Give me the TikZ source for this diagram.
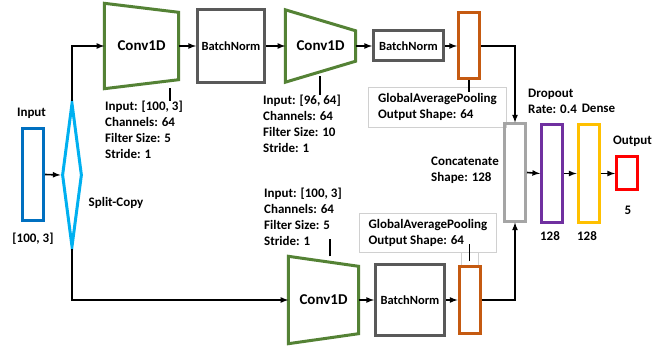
\documentclass[tikz,border=0pt]{standalone}
\usepackage{fontspec}
\setmainfont{Carlito}
\usetikzlibrary{shapes.geometric,arrows,positioning}

\definecolor{inblue}{HTML}{0070C0}
\definecolor{splitblue}{HTML}{00B0F0}
\definecolor{convgreen}{HTML}{548235}
\definecolor{bngray}{HTML}{595959}
\definecolor{gaporange}{HTML}{C55A11}
\definecolor{catgray}{HTML}{A5A5A5}
\definecolor{droppurple}{HTML}{7030A0}
\definecolor{denseyellow}{HTML}{FFC000}
\definecolor{outred}{HTML}{FF0000}
\definecolor{boxgray}{HTML}{D0D0D0}

\begin{document}
\begin{tikzpicture}[x=1pt,y=-1pt,>=latex,
    every node/.style={font=\bfseries\fontsize{13}{16}\selectfont},
    bar/.style={rectangle,line width=3pt,inner sep=0,minimum width=21},
    convbox/.style={inner sep=0,font=\bfseries\fontsize{15}{18}\selectfont},
    convline/.style={draw=convgreen,line width=3pt,line join=miter},
    bnbox/.style={rectangle,draw=bngray,line width=3pt,inner sep=0,font=\bfseries\fontsize{12.5}{15}\selectfont},
    info/.style={align=left,anchor=north west,inner sep=0},
    infobox/.style={draw=boxgray,line width=0.8pt,align=left,inner sep=0,anchor=north west},
    link/.style={->,line width=1.6pt},
    tick/.style={line width=1.6pt}]
    \useasboundingbox (0,0) rectangle (667,350);

    % Input
    \node[bar,draw=inblue,minimum height=92] (in) at (33,174.5) {};
    \node (inlab) at (31.5,113) {Input};
    \node (inshape) at (33,239) {[100, 3]};

    % Split-Copy
    \node[diamond,draw=splitblue,line width=3pt,inner sep=0,minimum width=20,minimum height=144] (split) at (72,175) {};
    \node (splitlab) at (116,203) {Split-Copy};
    \draw[link] (in.east) -- (split.west);

    % Upper branch
    \node[convbox,minimum width=74,minimum height=85] (conv1) at (141.5,46) {Conv1D};
    \draw[convline] (conv1.north west) -- ([yshift=-9pt]conv1.north east) -- ([yshift=9pt]conv1.south east) -- (conv1.south west) -- cycle;
    \node[bnbox,minimum width=67,minimum height=73] (bn1) at (231,46) {BatchNorm};
    \node[convbox,minimum width=70,minimum height=72] (conv2) at (320.5,46) {Conv1D};
    \draw[convline] (conv2.north west) -- ([yshift=-21pt]conv2.north east) -- ([yshift=21pt]conv2.south east) -- (conv2.south west) -- cycle;
    \node[bnbox,minimum width=70,minimum height=30] (bn2) at (408.5,46) {BatchNorm};
    \node[bar,draw=gaporange,minimum height=66] (gap1) at (469,46) {};

    \draw[link] (split.north) |- (conv1.west);
    \draw[link] (conv1.east) -- (bn1.west);
    \draw[link] (bn1.east) -- (conv2.west);
    \draw[link] (conv2.east) -- (bn2.west);
    \draw[link] (bn2.east) -- (gap1.west);

    \node[info] (conv1info) at (105,101) {Input: [100, 3]\\Channels: 64\\Filter Size: 5\\Stride: 1};
    \draw[tick] ([xshift=65pt]conv1info.north west) -- ++(0,-13);
    \node[info] (conv2info) at (263,95) {Input: [96, 64]\\Channels: 64\\Filter Size: 10\\Stride: 1};
    \draw[tick] ([xshift=57pt]conv2info.north west) -- ++(0,-19);
    \node[infobox,minimum width=138,minimum height=40] (gap1info) at (368,87) {GlobalAveragePooling\\Output Shape: 64};
    \draw[tick] (gap1.south) -- ++(0,12);

    % Lower branch
    \node[convbox,minimum width=70,minimum height=87] (conv3) at (323.5,300) {Conv1D};
    \draw[convline] (conv3.north west) -- ([yshift=-10pt]conv3.north east) -- ([yshift=10pt]conv3.south east) -- (conv3.south west) -- cycle;
    \node[bnbox,minimum width=69,minimum height=71] (bn3) at (410,300) {BatchNorm};
    \node[bar,draw=gaporange,minimum height=67] (gap2) at (469.5,300) {};

    \draw[link] (split.south) |- (conv3.west);
    \draw[link] (conv3.east) -- (bn3.west);
    \draw[link] (bn3.east) -- (gap2.west);

    \node[info] (conv3info) at (264,188) {Input: [100, 3]\\Channels: 64\\Filter Size: 5\\Stride: 1};
    \draw[tick] ([xshift=6.5pt]conv3.north) -- ++(0,-17);
    \node[infobox,minimum width=137,minimum height=39] (gap2info) at (359,213) {GlobalAveragePooling\\Output Shape: 64};
    \draw[draw=boxgray,line width=0.8pt] ([xshift=-8pt]gap2.north) -- ([xshift=-8pt]gap2.north |- gap2info.south);
    \draw[draw=boxgray,line width=0.8pt] ([xshift=9pt]gap2.north) -- ([xshift=9pt]gap2.north |- gap2info.south);
    \draw[tick] ([yshift=4pt]gap2.north) -- ++(0,-17);

    % Concatenate and head
    \node[bar,draw=catgray,minimum height=97] (cat) at (515,172.5) {};
    \node[info] (catinfo) at (431,157) {Concatenate\\Shape: 128};
    \draw[link] (gap1.east) -| (cat.north);
    \draw[link] (gap2.east) -| (cat.south);

    \node[bar,draw=droppurple,minimum height=98] (drop) at (552,173.5) {};
    \node[info] (dropinfo) at (528,89) {Dropout\\Rate: 0.4};
    \node (dropsize) at (550,236) {128};

    \node[bar,draw=denseyellow,minimum height=97] (dense) at (588.5,173.5) {};
    \node (denselab) at (598.5,108) {Dense};
    \node (densesize) at (587,236) {128};

    \node[bar,draw=outred,minimum height=33] (out) at (627,173.5) {};
    \node (outlab) at (632.5,141) {Output};
    \node (outsize) at (628,210) {5};

    \draw[link] (cat.east) -- (drop.west);
    \draw[link] (drop.east) -- (dense.west);
    \draw[link] (dense.east) -- (out.west);
\end{tikzpicture}
\end{document}
